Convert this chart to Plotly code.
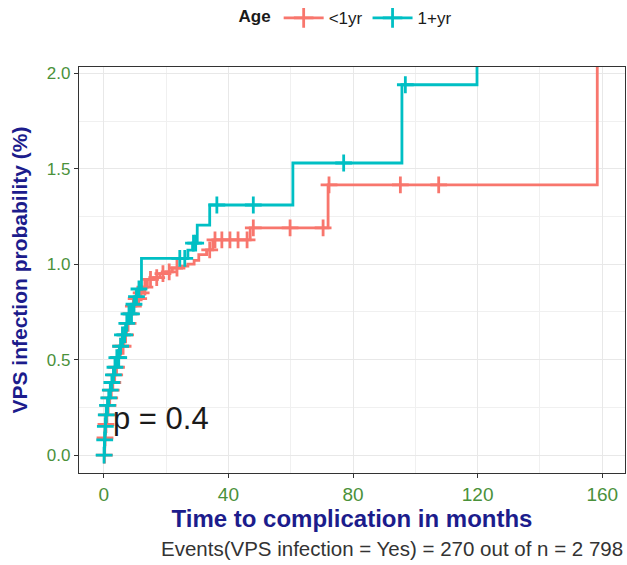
import numpy as np
import plotly.graph_objects as go

# Kaplan-Meier style cumulative incidence (%) by age group: step times (months) and levels
under1_t = [0, 0.3, 0.5, 0.8, 1.2, 1.7, 2.2, 2.7, 3.2, 3.8, 4.4, 5.3, 6.3, 7.3, 8.3, 9.3,
            10.3, 11.3, 12.5, 14.0, 16.0, 18.0, 20.0, 22.0, 25.0, 27.0, 29.0, 30.5, 33.0,
            35.0, 47.0, 72.0, 158.4]
under1_v = [0, 0.09, 0.16, 0.21, 0.26, 0.30, 0.34, 0.38, 0.42, 0.46, 0.51, 0.57, 0.63, 0.69,
            0.74, 0.78, 0.82, 0.85, 0.88, 0.92, 0.93, 0.95, 0.96, 0.98, 0.99, 1.00, 1.02, 1.05,
            1.075, 1.127, 1.19, 1.415, 2.45]
under1_cens = [0.2, 0.4, 0.7, 1.0, 1.4, 1.9, 2.4, 2.9, 3.5, 4.1, 4.7, 5.5, 6.2, 7.0, 7.8, 8.6,
               9.5, 10.4, 11.2, 12.0, 13.2, 15.0, 17.0, 19.0, 21.0, 23.5, 34.0, 35.7, 37.9,
               40.5, 43.1, 46.0, 48.0, 59.8, 70.4, 72.3, 95.2, 107.5]

over1_t = [0, 0.2, 0.4, 0.6, 1.0, 1.5, 2.0, 2.5, 3.0, 3.5, 4.0, 5.0, 6.0, 7.0, 8.0, 9.0, 10.0,
           11.0, 12.1, 27.0, 28.5, 30.0, 34.0, 60.7, 95.7, 119.8]
over1_v = [0, 0.08, 0.15, 0.21, 0.26, 0.30, 0.34, 0.38, 0.42, 0.46, 0.51, 0.57, 0.63, 0.69,
           0.74, 0.79, 0.83, 0.87, 1.03, 1.074, 1.11, 1.205, 1.31, 1.53, 1.94, 2.30]
over1_cens = [0.1, 0.3, 0.5, 0.8, 1.2, 1.6, 2.1, 2.6, 3.1, 3.6, 4.2, 4.8, 5.4, 6.0, 6.7, 7.4,
              8.1, 8.9, 9.7, 10.5, 11.3, 24.4, 26.0, 28.8, 29.5, 36.3, 48.0, 77.0, 96.8]

groups = ["<1yr", "1+yr"]
colors = ["#F8766D", "#00BFC4"]

x_ticks = [0, 40, 80, 120, 160]
y_ticks = [0.0, 0.5, 1.0, 1.5, 2.0]
p_label = "p = 0.4"
caption = "Events(VPS infection = Yes) = 270 out of n = 2 798"

FONT = "Liberation Sans, Arial"
TITLE_COL = "#1c1c8c"
TICK_COL = "#4a913a"
LW = 2.8


def level_at(times, levels, t):
    idx = np.searchsorted(np.asarray(times), np.asarray(t), side="right") - 1
    return np.asarray(levels)[idx]


fig = go.Figure()
series = [(under1_t, under1_v, under1_cens), (over1_t, over1_v, over1_cens)]
for (t, v, cens), name, col in zip(series, groups, colors):
    fig.add_trace(go.Scatter(x=t, y=v, mode="lines", line=dict(color=col, width=LW, shape="hv"),
                             showlegend=False, hoverinfo="skip", cliponaxis=True))
    fig.add_trace(go.Scatter(x=cens, y=level_at(t, v, cens), mode="markers",
                             marker=dict(symbol="cross-thin", size=12, color=col,
                                         line=dict(color=col, width=LW)),
                             showlegend=False, cliponaxis=True))
    # legend key: line with censor mark
    fig.add_trace(go.Scatter(x=[None], y=[None], mode="lines+markers", name=name,
                             line=dict(color=col, width=LW),
                             marker=dict(symbol="cross-thin", size=14, color=col,
                                         line=dict(color=col, width=LW))))

fig.add_annotation(x=2.3, y=0.19, xref="x", yref="y", text=p_label, showarrow=False,
                   xanchor="left", yanchor="middle",
                   font=dict(family=FONT, size=31, color="#1a1a1a"))
fig.add_annotation(x=1.0, y=-0.187, xref="paper", yref="paper", text=caption, showarrow=False,
                   xanchor="right", yanchor="middle",
                   font=dict(family=FONT, size=20.5, color="#333333"))

axis_common = dict(showline=True, linecolor="#333333", linewidth=1.2, mirror=True,
                   ticks="outside", ticklen=4, tickcolor="#333333", tickwidth=1,
                   showgrid=True, gridcolor="#E8E8E8", gridwidth=1.2, zeroline=False)

fig.update_xaxes(range=[-7.95, 167.3], tickvals=x_ticks,
                 tickfont=dict(family=FONT, size=19, color=TICK_COL),
                 minor=dict(dtick=20, tick0=0, showgrid=True, gridcolor="#F0F0F0", gridwidth=1),
                 title=dict(text="<b>Time to complication in months</b>", standoff=6,
                            font=dict(family=FONT, size=24, color=TITLE_COL)),
                 **axis_common)
fig.update_yaxes(range=[-0.094, 2.033], tickvals=y_ticks, tickformat=".1f",
                 tickfont=dict(family=FONT, size=17, color=TICK_COL),
                 minor=dict(dtick=0.25, tick0=0, showgrid=True, gridcolor="#F0F0F0", gridwidth=1),
                 title=dict(text="<b>VPS infection probability (%)</b>", standoff=13,
                            font=dict(family=FONT, size=21, color=TITLE_COL)),
                 **axis_common)

fig.update_layout(
    width=627, height=565,
    margin=dict(l=79, r=2, t=67, b=92, autoexpand=False),
    paper_bgcolor="white", plot_bgcolor="white",
    font=dict(family=FONT),
    legend=dict(orientation="h", x=0.49, xanchor="center", y=1.12, yanchor="middle",
                title=dict(text="<b>Age</b>", side="left",
                           font=dict(size=17, color="#1a1a1a")),
                font=dict(size=17, color="#1a1a1a"), itemwidth=40, bgcolor="rgba(0,0,0,0)"),
)

fig.write_html("out.html")
